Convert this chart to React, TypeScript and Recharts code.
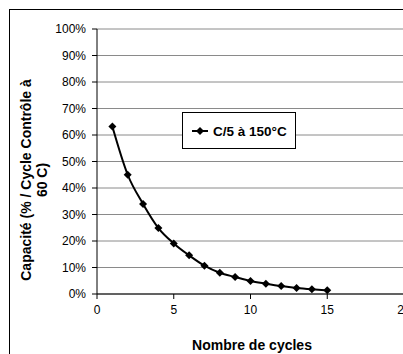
import React from 'react';
import {
  LineChart,
  Line,
  XAxis,
  YAxis,
  CartesianGrid,
  Label,
} from 'recharts';

// Nombre de cycles vs capacité (% du cycle contrôle à 60 °C)
const cycles = [1, 2, 3, 4, 5, 6, 7, 8, 9, 10, 11, 12, 13, 14, 15];
const capacite = [63.2, 45.0, 34.0, 24.9, 19.1, 14.6, 10.7, 8.0, 6.4, 4.9, 3.9, 3.0, 2.3, 1.8, 1.4];
const xTicks = [0, 5, 10, 15, 20];
const yTicks = [0, 10, 20, 30, 40, 50, 60, 70, 80, 90, 100];
const seriesName = 'C/5 à 150°C';

const FONT = '"Liberation Sans", Arial, sans-serif';

const data = cycles.map((c, i) => ({ cycle: c, capacite: capacite[i] }));

function Diamond(props: any) {
  const { cx, cy } = props;
  if (cx == null || cy == null) return null;
  const r = 4;
  return (
    <path
      d={`M${cx},${cy - r}L${cx + r},${cy}L${cx},${cy + r}L${cx - r},${cy}Z`}
      fill="#000"
      stroke="none"
    />
  );
}

// legend box sits inside the plot, like the Excel original
function LegendBox() {
  return (
    <div
      style={{
        position: 'absolute',
        left: 182,
        top: 112,
        width: 112,
        height: 35,
        border: '1px solid #000',
        background: '#fff',
      }}
    >
      <svg width={112} height={35} style={{ position: 'absolute', left: 0, top: 0 }}>
        <line x1={9} y1={18} x2={25} y2={18} stroke="#000" strokeWidth={2} />
        <Diamond cx={17} cy={18} />
        <text x={30} y={23} fontSize={13.5} fontWeight="bold" fill="#000" fontFamily={FONT}>
          {seriesName}
        </text>
      </svg>
    </div>
  );
}

export default function App() {
  return (
    <div
      style={{
        position: 'fixed',
        left: 0,
        top: 0,
        width: 403,
        height: 354,
        overflow: 'hidden',
        background: '#fff',
      }}
    >
      <div
        style={{
          position: 'absolute',
          left: 9,
          top: 9,
          width: 420,
          height: 360,
          border: '1px solid #000',
        }}
      />
      <div style={{ position: 'absolute', left: 0, top: 0 }}>
        <LineChart
          width={420}
          height={354}
          data={data}
          margin={{ top: 29, right: 16, bottom: 30, left: 37 }}
          style={{ fontFamily: FONT }}
        >
          <CartesianGrid vertical={false} stroke="#8a8a8a" strokeWidth={1} />
          <XAxis
            dataKey="cycle"
            type="number"
            domain={[0, 20]}
            ticks={xTicks}
            height={30}
            stroke="#000"
            tickSize={5}
            tickMargin={6}
            tick={{ fill: '#000', fontSize: 12, fontFamily: FONT }}
            tickLine={{ stroke: '#000' }}
            axisLine={{ stroke: '#000' }}
          >
            <Label
              content={() => (
                <text
                  x={252}
                  y={350}
                  textAnchor="middle"
                  fontSize={14}
                  fontWeight="bold"
                  fill="#000"
                  fontFamily={FONT}
                >
                  Nombre de cycles
                </text>
              )}
            />
          </XAxis>
          <YAxis
            type="number"
            domain={[0, 100]}
            ticks={yTicks}
            width={60}
            interval={0}
            stroke="#000"
            tickSize={5}
            tickMargin={6}
            tickFormatter={(v) => `${v}%`}
            tick={{ fill: '#000', fontSize: 12, fontFamily: FONT }}
            tickLine={{ stroke: '#000' }}
            axisLine={{ stroke: '#000' }}
          >
            <Label
              content={() => (
                <g>
                  <text
                    transform="translate(31,180) rotate(-90)"
                    textAnchor="middle"
                    fontSize={14}
                    fontWeight="bold"
                    fill="#000"
                    fontFamily={FONT}
                  >
                    Capacité (% / Cycle Contrôle à
                  </text>
                  <text
                    transform="translate(47,180) rotate(-90)"
                    textAnchor="middle"
                    fontSize={14}
                    fontWeight="bold"
                    fill="#000"
                    fontFamily={FONT}
                  >
                    60 C)
                  </text>
                </g>
              )}
            />
          </YAxis>
          <Line
            type="monotone"
            dataKey="capacite"
            name={seriesName}
            stroke="#000"
            strokeWidth={2}
            dot={(p: any) => <Diamond key={`d-${p.index}`} {...p} />}
            activeDot={false}
            isAnimationActive={false}
          />
        </LineChart>
      </div>
      <LegendBox />
    </div>
  );
}
